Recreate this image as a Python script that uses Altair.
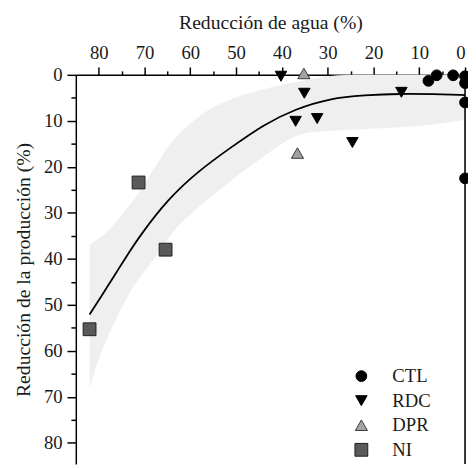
import altair as alt
import pandas as pd

# ---- data ----
cats = ["CTL", "RDC", "DPR", "NI"]
shapes = ["circle", "triangle-down", "triangle-up", "square"]
fills = ["#000000", "#000000", "#a3a3a3", "#5a5a5a"]
strokes = ["#000000", "#000000", "#3a3a3a", "#1f1f1f"]
sizes = [120, 170, 140, 105]

ctl_x = [8.0, 6.2, 2.6, 0.0, 0.0, 0.0, 0.0]
ctl_y = [1.3, 0.1, 0.1, 0.3, 1.8, 6.0, 22.5]
rdc_x = [40.2, 35.1, 37.0, 32.3, 24.6, 13.9]
rdc_y = [0.3, 4.0, 10.1, 9.5, 14.7, 3.8]
dpr_x = [35.2, 36.6]
dpr_y = [-0.3, 17.0]
ni_x = [82.0, 71.3, 65.4]
ni_y = [55.3, 23.4, 38.0]

curve_x = [82, 78, 76, 73, 71, 65, 58, 51, 44, 37, 29.5, 22, 14, 7, 0]
curve_y = [52.1, 45.9, 42.7, 38.0, 35.0, 27.1, 20.7, 15.7, 10.8, 7.4, 5.1, 4.4, 4.1, 4.2, 4.4]

band_x = [82, 80, 78, 76, 72, 69, 66, 64, 58, 51, 43, 37, 32, 28, 22, 14, 8, 0]
band_hi = [37, 35.5, 34.2, 31.5, 27, 22, 17.5, 14.2, 8.5, 5.0, 2.8, 1.6, 0.6, 0, 0, 0, 0, 0]
band_lo = [68, 61.5, 57, 52.5, 45, 41.5, 37.5, 34, 28.5, 22.8, 17, 12.8, 12.3, 12.1, 11.8, 11.4, 11.0, 9.8]

x_ticks = list(range(0, 81, 5))
y_ticks = list(range(0, 81, 5))

# ---- tables ----
pts = pd.DataFrame({
    "x": ctl_x + rdc_x + dpr_x + ni_x,
    "y": ctl_y + rdc_y + dpr_y + ni_y,
    "trat": ["CTL"] * len(ctl_x) + ["RDC"] * len(rdc_x) + ["DPR"] * len(dpr_x) + ["NI"] * len(ni_x),
})
curve = pd.DataFrame({"x": curve_x, "y": curve_y})
band = pd.DataFrame({"x": band_x, "y": band_hi, "y2": band_lo})

FONT = "Liberation Serif"
W, H = 396, 396

major = "datum.value % 10 === 0"
x_axis = alt.Axis(
    orient="top", values=x_ticks, title="Reducción de agua (%)",
    labelExpr=f"{major} ? datum.label : ''",
    tickSize={"condition": {"test": major, "value": 8}, "value": 4},
    labelPadding=5, titlePadding=11, grid=False,
)
y_axis = alt.Axis(
    orient="left", values=y_ticks, title="Reducción de la producción (%)",
    labelExpr=f"{major} ? datum.label : ''",
    tickSize={"condition": {"test": major, "value": 9}, "value": 5},
    labelPadding=5, titlePadding=10, grid=False,
)
xs = alt.Scale(domain=[85, 0], nice=False, zero=False)
ys = alt.Scale(domain=[0, 84.6], nice=False, zero=False, reverse=True)

xe = alt.X("x:Q", scale=xs, axis=x_axis)
ye = alt.Y("y:Q", scale=ys, axis=y_axis)

band_layer = alt.Chart(band).mark_area(color="#efefef", interpolate="basis").encode(
    x=xe, y=ye, y2="y2:Q"
)
line_layer = alt.Chart(curve).mark_line(color="#000000", strokeWidth=1.8, interpolate="basis").encode(
    x=xe, y=ye
)
right_edge = alt.Chart(pd.DataFrame({"x": [0]})).mark_rule(color="#000000", strokeWidth=1.6).encode(
    x=alt.X("x:Q", scale=xs, axis=x_axis), y=alt.value(0), y2=alt.value(H)
)
pt_layer = alt.Chart(pts).mark_point(filled=True, strokeWidth=1, opacity=1).encode(
    x=xe, y=ye,
    shape=alt.Shape("trat:N", scale=alt.Scale(domain=cats, range=shapes), title=None),
    fill=alt.Fill("trat:N", scale=alt.Scale(domain=cats, range=fills), title=None),
    stroke=alt.Stroke("trat:N", scale=alt.Scale(domain=cats, range=strokes), title=None),
    size=alt.Size("trat:N", scale=alt.Scale(domain=cats, range=sizes), title=None),
)

chart = alt.layer(band_layer, line_layer, right_edge, pt_layer).properties(
    width=W, height=H,
    autosize=alt.AutoSizeParams(type="none"),
    padding={"left": 69, "top": 64, "right": 3, "bottom": 0},
).configure_view(stroke=None).configure_axis(
    domainColor="#000000", domainWidth=1.5, tickColor="#000000", tickWidth=1.5,
    labelFont=FONT, labelFontSize=19, labelColor="#1a1a1a",
    titleFont=FONT, titleFontSize=20, titleFontWeight="normal", titleColor="#1a1a1a",
).configure_legend(
    orient="none", legendX=281, legendY=297, padding=0,
    labelFont=FONT, labelFontSize=19, labelColor="#1a1a1a", labelOffset=22,
    rowPadding=5, symbolStrokeWidth=1,
)

chart.save("out.html", embed_options={"renderer": "svg", "actions": False})
